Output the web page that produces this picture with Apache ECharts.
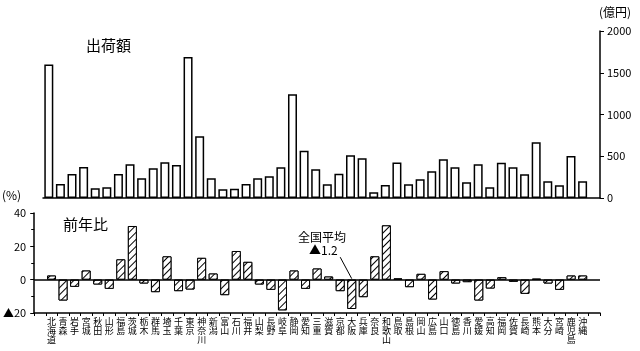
<!DOCTYPE html>
<html><head><meta charset="utf-8">
<script src="https://cdn.jsdelivr.net/npm/echarts@6/dist/echarts.min.js"></script>
<style>html,body{margin:0;padding:0;background:#fff}#c{width:640px;height:351px}</style>
</head><body><div id="c"></div>
<script>
const prefs = ['北海道','青森','岩手','宮城','秋田','山形','福島','茨城','栃木','群馬','埼玉','千葉','東京','神奈川','新潟','富山','石川','福井','山梨','長野','岐阜','静岡','愛知','三重','滋賀','京都','大阪','兵庫','奈良','和歌山','鳥取','島根','岡山','広島','山口','徳島','香川','愛媛','高知','福岡','佐賀','長崎','熊本','大分','宮崎','鹿児島','沖縄'];
const shipments = [1600,168,288,371,116,128,288,404,236,356,428,395,1689,739,236,104,112,168,236,260,368,1242,567,344,164,291,511,475,68,156,425,166,224,320,463,368,188,404,128,423,368,284,667,200,152,503,200];
const yoy = [2.5,-12.5,-4.3,5.5,-2.9,-5.5,12.2,32.2,-2.3,-7.5,14,-6.9,-5.9,13.1,3.7,-9.3,17.2,10.7,-2.9,-6.1,-18.4,5.5,-5.5,6.7,1.9,-6.9,-17.6,-10.5,14,32.6,0.7,-4.5,3.5,-11.9,5.1,-2.3,-1.5,-12.5,-5.3,1.5,-1.3,-8.5,0.5,-2.3,-6.1,2.5,2.5];
const nationalAvg = -1.2;
const shipTicks = [0,500,1000,1500,2000];
const yoyTicks = [-20,0,20,40];

const FONT = '"Noto Sans CJK JP", sans-serif';
const topCats = prefs.concat(['']);
const topData = shipments.concat(['-']);
const botCats = [''].concat(prefs, ['']);
const botData = ['-'].concat(yoy, ['-']);

const chart = echarts.init(document.getElementById('c'), null, {renderer:'canvas'});
chart.setOption({
  animation:false,
  backgroundColor:'#fff',
  textStyle:{fontFamily:FONT, color:'#000'},
  grid:[
    {left:43, right:40, top:31, height:167},
    {left:33, right:40, top:213, height:100}
  ],
  xAxis:[
    {gridIndex:0, type:'category', data:topCats, boundaryGap:true,
     axisLine:{show:true, lineStyle:{color:'#000', width:1.5}}, axisTick:{show:false}, axisLabel:{show:false}},
    {gridIndex:1, type:'category', data:botCats, boundaryGap:true, position:'bottom',
     axisLine:{show:true, onZero:false, lineStyle:{color:'#000', width:1.5}},
     axisTick:{show:true, interval:0, length:3, lineStyle:{color:'#000'}},
     axisLabel:{show:true, interval:0, margin:4, color:'#000',
       formatter:v=>v.split('').join('\n'),
       rich:{}, fontSize:9, lineHeight:9, fontFamily:FONT, fontWeight:'normal', verticalAlign:'top'}}
  ],
  yAxis:[
    {gridIndex:0, type:'value', position:'right', min:shipTicks[0], max:shipTicks[shipTicks.length-1], interval:500,
     axisLine:{show:true, lineStyle:{color:'#000', width:1.5}},
     axisTick:{show:true, inside:false, length:4, lineStyle:{color:'#000'}},
     axisLabel:{margin:7, fontSize:11, color:'#000', fontFamily:FONT, formatter:v=>String(v)},
     splitLine:{show:false}},
    {gridIndex:1, type:'value', position:'left', min:yoyTicks[0], max:yoyTicks[yoyTicks.length-1], interval:20,
     axisLine:{show:true, lineStyle:{color:'#000', width:1.5}},
     axisTick:{show:true, length:4, lineStyle:{color:'#000'}},
     minorTick:{show:true, splitNumber:2, length:3, lineStyle:{color:'#000'}},
     axisLabel:{margin:8, fontSize:11, color:'#000', fontFamily:FONT,
       formatter:v=> v<0 ? '▲'+Math.abs(v) : String(v)},
     splitLine:{show:false}}
  ],
  series:[
    {type:'bar', xAxisIndex:0, yAxisIndex:0, data:topData, barWidth:9,
     itemStyle:{color:'#fff', borderColor:'#000', borderWidth:1.5}},
    {type:'bar', xAxisIndex:1, yAxisIndex:1, data:botData, barWidth:9,
     itemStyle:{color:'#fff', borderColor:'#000', borderWidth:1,
       decal:{symbol:'rect', symbolSize:1, dashArrayX:[[1,0]], dashArrayY:[1,4], rotation:-Math.PI/4, color:'#000', backgroundColor:'#fff'}},
     markLine:{silent:true, symbol:['none','none'], label:{show:false},
       data:[
         {yAxis:0, lineStyle:{color:'#000', width:1.5, type:'solid'}},
         [{coord:[26,13.5], lineStyle:{color:'#000', width:1, type:'solid'}}, {coord:[27,0.6]}]
       ]}}
  ],
  graphic:[
    {type:'text', left:86, top:38, style:{text:'出荷額', font:'15px '+FONT, fill:'#000'}},
    {type:'text', left:63, top:217, style:{text:'前年比', font:'15px '+FONT, fill:'#000'}},
    {type:'text', left:599, top:6, style:{text:'(億円)', font:'12px '+FONT, fill:'#000'}},
    {type:'text', left:2, top:189, style:{text:'(%)', font:'12px '+FONT, fill:'#000'}},
    {type:'text', left:298, top:231, style:{text:'全国平均', font:'12px '+FONT, fill:'#000'}},
    {type:'text', left:309, top:244, style:{text:'▲1.2', font:'12px '+FONT, fill:'#000'}}
  ]
});
</script></body></html>
